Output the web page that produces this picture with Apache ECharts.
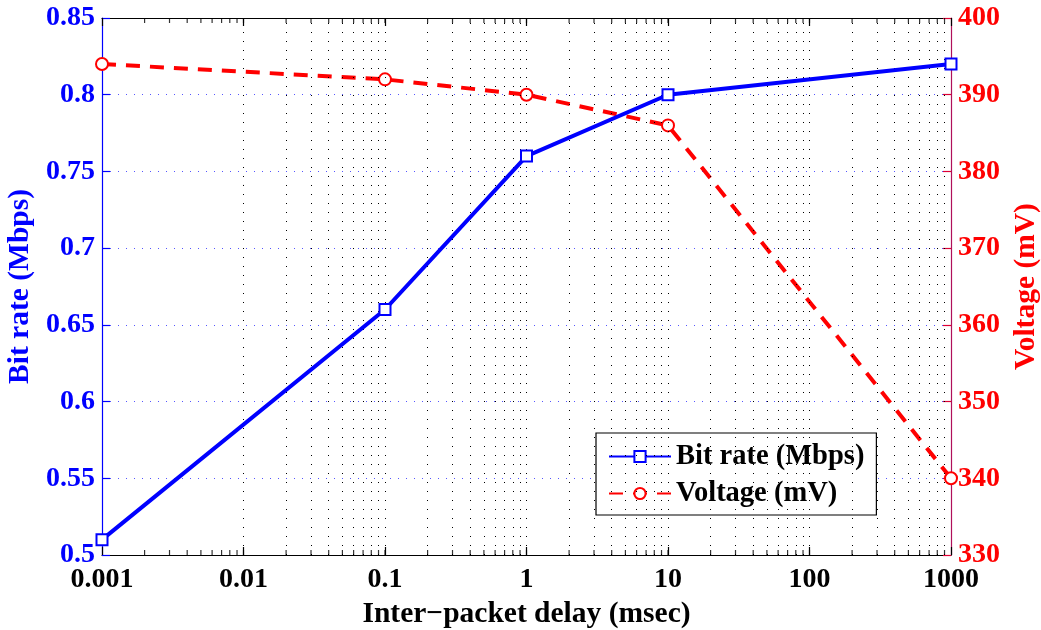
<!DOCTYPE html>
<html>
<head>
<meta charset="utf-8">
<script src="https://cdn.jsdelivr.net/npm/echarts@6/dist/echarts.min.js"></script>
<style>html,body{margin:0;padding:0;background:#fff;}#c{width:1041px;height:630px;}</style>
</head>
<body>
<div id="c"></div>
<script>
const delays = [0.001, 0.1, 1, 10, 1000];
const bitRate = [0.51, 0.66, 0.76, 0.80, 0.82];
const voltage = [394, 392, 390, 386, 340];
const xTickLabels = ['0.001', '0.01', '0.1', '1', '10', '100', '1000'];
const gridX = [];
[0.001, 0.01, 0.1, 1, 10, 100].forEach(function (d) {
  for (let k = 1; k <= 9; k++) { if (!(d === 0.001 && k === 1)) gridX.push(+(d * k).toPrecision(3)); }
});
const FONT = 'Liberation Serif';
const chart = echarts.init(document.getElementById('c'));
const xBase = {
  type: 'log', logBase: 10, min: 0.001, max: 1000,
  axisLine: { lineStyle: { color: '#000', width: 1.2 } },
  axisTick: { inside: true, length: 8, lineStyle: { color: '#000', width: 1.2 } },
  splitLine: { show: false }
};
chart.setOption({
  animation: false,
  backgroundColor: '#fff',
  grid: { left: 102, right: 90, top: 18, bottom: 75, containLabel: false, outerBoundsMode: 'none' },
  legend: {
    orient: 'vertical', left: 596, top: 433,
    data: ['Bit rate (Mbps)', 'Voltage (mV)'],
    borderColor: '#000', borderWidth: 1.2, backgroundColor: '#fff',
    padding: [9, 12, 7, 12], itemGap: 8, itemWidth: 62, itemHeight: 14,
    textStyle: { fontFamily: FONT, fontWeight: 'bold', fontSize: 28.5, color: '#000' }
  },
  xAxis: [
    Object.assign({}, xBase, {
      position: 'bottom',
      name: 'Inter\u2212packet delay (msec)', nameLocation: 'middle', nameGap: 43,
      nameTextStyle: { fontFamily: FONT, fontWeight: 'bold', fontSize: 29.5, color: '#000' },
      axisLabel: {
        margin: 11, fontFamily: FONT, fontWeight: 'bold', fontSize: 28, color: '#000',
        formatter: function (v) { return xTickLabels[Math.round(Math.log10(v)) + 3]; }
      }
    }),
    Object.assign({}, xBase, { position: 'top', axisLabel: { show: false } })
  ],
  yAxis: [
    {
      type: 'value', min: 0.5, max: 0.85, interval: 0.05, position: 'left',
      name: 'Bit rate (Mbps)', nameLocation: 'middle', nameRotate: 90, nameGap: 62,
      nameTextStyle: { fontFamily: FONT, fontWeight: 'bold', fontSize: 29.5, color: '#0000ff' },
      axisLine: { show: true, lineStyle: { color: '#0000ff', width: 1.2 } },
      axisTick: { show: true, inside: true, length: 8, lineStyle: { color: '#0000ff', width: 1.2 } },
      axisLabel: { margin: 7, fontFamily: FONT, fontWeight: 'bold', fontSize: 28, color: '#0000ff' },
      splitLine: { show: true, showMinLine: false, showMaxLine: false, lineStyle: { color: '#5555ff', type: [1, 7], width: 1 } }
    },
    {
      type: 'value', min: 330, max: 400, interval: 10, position: 'right',
      name: 'Voltage (mV)', nameLocation: 'middle', nameRotate: 90, nameGap: 53,
      nameTextStyle: { fontFamily: FONT, fontWeight: 'bold', fontSize: 29.5, color: '#ff0000' },
      axisLine: { show: true, lineStyle: { color: '#b0105a', width: 1.2 } },
      axisTick: { show: true, inside: true, length: 8, lineStyle: { color: '#dd0033', width: 1.2 } },
      axisLabel: { margin: 7, fontFamily: FONT, fontWeight: 'bold', fontSize: 28, color: '#ff0000' },
      splitLine: { show: false }
    }
  ],
  series: [
    {
      name: 'minorBottom', type: 'scatter', xAxisIndex: 0, yAxisIndex: 0, silent: true,
      data: gridX.map(function (v) { return [v, 0.5]; }),
      symbol: 'rect', symbolSize: [1.2, 5], symbolOffset: [0, -2.5],
      itemStyle: { color: '#000' }, z: 1,
      markLine: {
        silent: true, symbol: 'none', label: { show: false },
        lineStyle: { color: '#000', type: [1, 8], width: 1 },
        data: gridX.map(function (v) { return { xAxis: v }; })
      }
    },
    {
      name: 'minorTop', type: 'scatter', xAxisIndex: 0, yAxisIndex: 0, silent: true,
      data: gridX.map(function (v) { return [v, 0.85]; }),
      symbol: 'rect', symbolSize: [1.2, 5], symbolOffset: [0, 2.5],
      itemStyle: { color: '#000' }, z: 1
    },
    {
      name: 'Bit rate (Mbps)', type: 'line', xAxisIndex: 0, yAxisIndex: 0,
      data: delays.map(function (d, i) { return [d, bitRate[i]]; }),
      symbol: 'emptyRect', symbolSize: 11,
      lineStyle: { color: '#0000ff', width: 4 },
      itemStyle: { color: '#0000ff', borderColor: '#0000ff', borderWidth: 3 },
      z: 5
    },
    {
      name: 'Voltage (mV)', type: 'line', xAxisIndex: 0, yAxisIndex: 1,
      data: delays.map(function (d, i) { return [d, voltage[i]]; }),
      symbol: 'emptyCircle', symbolSize: 12,
      lineStyle: { color: '#ff0000', width: 4, type: [14, 10] },
      itemStyle: { color: '#ff0000', borderColor: '#ff0000', borderWidth: 3 },
      z: 4
    }
  ]
});
</script>
</body>
</html>
